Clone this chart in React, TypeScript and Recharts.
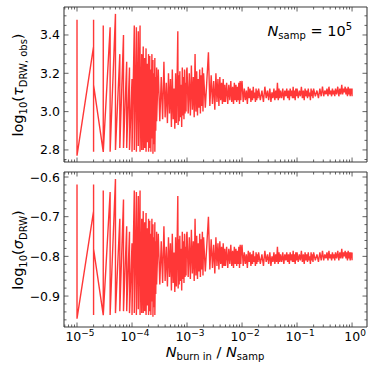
import React from "react";
import { LineChart, Line, XAxis, YAxis } from "recharts";

// N_burnin values (x = N_burnin / N_samp) and the two chains
const N_SAMP = 1e5;

const BURN_SPARSE = [1, 1, 2, 2, 2, 2, 3, 3, 3, 4, 4, 5, 5, 6, 6, 7, 7, 8, 8, 9, 9, 10, 10];
const TAU_SPARSE = [3.48, 2.77, 3.34, 3.48, 2.79, 3.14, 2.79, 3.45, 2.79, 3.44, 2.79, 3.51, 2.8, 3.3, 2.81, 3.4, 2.81, 3.26, 2.81, 3.23, 2.8, 3.17, 2.79];
const SIG_SPARSE = [-0.619, -0.957, -0.686, -0.619, -0.948, -0.781, -0.948, -0.634, -0.948, -0.638, -0.948, -0.605, -0.943, -0.705, -0.938, -0.657, -0.938, -0.724, -0.938, -0.738, -0.943, -0.767, -0.948];

const BURN_EARLY = [11, 11, 12, 12, 13, 13, 14, 14, 15, 15, 16, 16, 17, 17, 18, 18, 19, 19, 20, 20, 21, 21, 22, 22, 23, 23, 24, 24, 25, 25, 26, 26, 27, 27, 28, 28];
const TAU_EARLY = [3.45, 2.8, 3.44, 2.79, 3.42, 2.82, 3.45, 2.79, 3.3, 2.8, 3.34, 2.8, 3.28, 2.81, 3.33, 2.79, 3.25, 2.84, 3.3, 2.79, 3.29, 2.81, 3.22, 2.79, 3.3, 2.86, 3.27, 2.78, 3.2, 2.83, 3.28, 2.79, 3.18, 2.9, 3.23, 2.95];
const SIG_EARLY = [-0.634, -0.943, -0.638, -0.948, -0.648, -0.933, -0.634, -0.948, -0.705, -0.943, -0.686, -0.943, -0.714, -0.938, -0.691, -0.948, -0.729, -0.924, -0.705, -0.948, -0.71, -0.938, -0.743, -0.948, -0.705, -0.914, -0.719, -0.952, -0.752, -0.928, -0.714, -0.948, -0.762, -0.895, -0.738, -0.871];

const BURN_MID = [30, 32, 34, 36, 38, 40, 42, 44, 46, 48, 50, 52, 54, 56, 58, 60, 62, 64, 66, 68, 69, 70, 72, 74, 76, 78, 80, 82, 84, 86, 88, 90, 92, 94, 96, 98];
const TAU_MID = [3.22, 2.95, 3.18, 2.96, 3.26, 2.97, 3.15, 2.94, 3.2, 2.99, 3.17, 2.92, 3.22, 2.96, 3.12, 2.91, 3.2, 2.94, 3.16, 3.42, 2.93, 3.19, 2.95, 3.21, 2.97, 3.14, 2.92, 3.23, 2.98, 3.18, 2.96, 3.22, 2.99, 3.15, 3.0, 3.21];
const SIG_MID = [-0.743, -0.871, -0.762, -0.867, -0.724, -0.862, -0.776, -0.876, -0.752, -0.852, -0.767, -0.886, -0.743, -0.867, -0.79, -0.89, -0.752, -0.876, -0.771, -0.648, -0.881, -0.757, -0.871, -0.748, -0.862, -0.781, -0.886, -0.738, -0.857, -0.762, -0.867, -0.743, -0.852, -0.776, -0.848, -0.748];

const BURN_DEC3 = [
  100, 105, 110, 115, 120, 125, 130, 135, 140, 145, 150, 155, 160, 165, 170, 175, 180, 185, 190, 195,
  200, 215, 230, 245, 260, 275, 290, 305, 320, 335, 350, 365, 380, 395, 410, 425, 440, 455, 470, 485,
  500, 525, 550, 575, 600, 625, 650, 675, 700, 725, 750, 775, 800, 825, 850, 875, 900, 925, 950, 975,
];
const TAU_DEC3 = [
  3.23, 2.99, 3.2, 2.98, 3.24, 3.01, 3.18, 2.97, 3.3, 3.0, 3.21, 2.98, 3.17, 3.02, 3.22, 2.99, 3.19, 3.03, 3.23, 3.0,
  3.2, 3.02, 3.17, 3.31, 3.03, 3.19, 3.04, 3.16, 3.01, 3.2, 3.05, 3.17, 3.03, 3.18, 3.06, 3.15, 3.04, 3.17, 3.05, 3.14,
  3.05, 3.15, 3.04, 3.14, 3.06, 3.16, 3.05, 3.13, 3.04, 3.15, 3.06, 3.14, 3.05, 3.13, 3.06, 3.15, 3.04, 3.16, 3.06, 3.14,
];
const SIG_DEC3 = [
  -0.738, -0.852, -0.752, -0.857, -0.733, -0.843, -0.762, -0.862, -0.705, -0.848, -0.748, -0.857, -0.767, -0.838, -0.743, -0.852, -0.757, -0.833, -0.738, -0.848,
  -0.752, -0.838, -0.767, -0.7, -0.833, -0.757, -0.829, -0.771, -0.843, -0.752, -0.824, -0.767, -0.833, -0.762, -0.819, -0.776, -0.829, -0.767, -0.824, -0.781,
  -0.824, -0.776, -0.829, -0.781, -0.819, -0.771, -0.824, -0.786, -0.829, -0.776, -0.819, -0.781, -0.824, -0.786, -0.819, -0.776, -0.829, -0.771, -0.819, -0.781,
];

const BURN_DEC4 = [
  1000, 1050, 1100, 1150, 1200, 1250, 1300, 1350, 1400, 1450, 1500, 1550, 1600, 1650, 1700, 1750, 1800, 1850, 1900, 1950,
  2000, 2150, 2300, 2450, 2600, 2750, 2900, 3050, 3200, 3350, 3500, 3650, 3800, 3950, 4100, 4250, 4400, 4550, 4700, 4850,
  5000, 5250, 5500, 5750, 6000, 6250, 6500, 6750, 7000, 7250, 7500, 7750, 8000, 8250, 8500, 8750, 9000, 9250, 9500, 9750,
];
const TAU_DEC4 = [
  3.16, 3.05, 3.12, 3.06, 3.11, 3.04, 3.13, 3.07, 3.12, 3.05, 3.11, 3.06, 3.13, 3.07, 3.1, 3.05, 3.12, 3.06, 3.11, 3.07,
  3.12, 3.06, 3.11, 3.05, 3.13, 3.07, 3.11, 3.06, 3.12, 3.05, 3.1, 3.07, 3.12, 3.06, 3.11, 3.07, 3.15, 3.06, 3.12, 3.07,
  3.11, 3.07, 3.12, 3.06, 3.11, 3.08, 3.12, 3.07, 3.11, 3.06, 3.12, 3.08, 3.11, 3.07, 3.13, 3.07, 3.11, 3.06, 3.12, 3.08,
];
const SIG_DEC4 = [
  -0.771, -0.824, -0.79, -0.819, -0.795, -0.829, -0.786, -0.814, -0.79, -0.824, -0.795, -0.819, -0.786, -0.814, -0.8, -0.824, -0.79, -0.819, -0.795, -0.814,
  -0.79, -0.819, -0.795, -0.824, -0.786, -0.814, -0.795, -0.819, -0.79, -0.824, -0.8, -0.814, -0.79, -0.819, -0.795, -0.814, -0.776, -0.819, -0.79, -0.814,
  -0.795, -0.814, -0.79, -0.819, -0.795, -0.81, -0.79, -0.814, -0.795, -0.819, -0.79, -0.81, -0.795, -0.814, -0.786, -0.814, -0.795, -0.819, -0.79, -0.81,
];

const BURN_DEC5 = [
  10000, 10500, 11000, 11500, 12000, 12500, 13000, 13500, 14000, 14500, 15000, 15500, 16000, 16500, 17000, 17500, 18000, 18500, 19000, 19500,
  20000, 21500, 23000, 24500, 26000, 27500, 29000, 30500, 32000, 33500, 35000, 36500, 38000, 39500, 41000, 42500, 44000, 45500, 47000, 48500,
  50000, 52500, 55000, 57500, 60000, 62500, 65000, 67500, 70000, 72500, 75000, 77500, 80000, 82500, 85000, 87500, 90000, 92500, 95000, 97500,
  100000, 100000, 100000,
];
const TAU_DEC5 = [
  3.12, 3.07, 3.11, 3.08, 3.13, 3.07, 3.11, 3.06, 3.12, 3.08, 3.11, 3.07, 3.12, 3.08, 3.1, 3.06, 3.12, 3.08, 3.11, 3.07,
  3.12, 3.08, 3.11, 3.07, 3.12, 3.08, 3.13, 3.08, 3.11, 3.09, 3.12, 3.08, 3.13, 3.09, 3.11, 3.08, 3.12, 3.09, 3.11, 3.08,
  3.12, 3.09, 3.13, 3.08, 3.12, 3.09, 3.14, 3.09, 3.12, 3.1, 3.13, 3.09, 3.12, 3.08, 3.13, 3.09, 3.12, 3.08, 3.12, 3.09,
  3.12, 3.08, 3.1,
];
const SIG_DEC5 = [
  -0.79, -0.814, -0.795, -0.81, -0.786, -0.814, -0.795, -0.819, -0.79, -0.81, -0.795, -0.814, -0.79, -0.81, -0.8, -0.819, -0.79, -0.81, -0.795, -0.814,
  -0.79, -0.81, -0.795, -0.814, -0.79, -0.81, -0.786, -0.81, -0.795, -0.805, -0.79, -0.81, -0.786, -0.805, -0.795, -0.81, -0.79, -0.805, -0.795, -0.81,
  -0.79, -0.805, -0.786, -0.81, -0.79, -0.805, -0.781, -0.805, -0.79, -0.8, -0.786, -0.805, -0.79, -0.81, -0.786, -0.805, -0.79, -0.81, -0.79, -0.805,
  -0.79, -0.81, -0.8,
];

// axes
const X_MAJOR = [1e-5, 1e-4, 1e-3, 1e-2, 1e-1, 1];
const X_EXP = ["\u22125", "\u22124", "\u22123", "\u22122", "\u22121", "0"];
const X_DOMAIN = [5.8e-6, 1.87];

const TAU_MAJOR = [2.8, 3.0, 3.2, 3.4];
const TAU_LABELS = ["2.8", "3.0", "3.2", "3.4"];
const TAU_MINOR = [2.75, 2.85, 2.9, 2.95, 3.05, 3.1, 3.15, 3.25, 3.3, 3.35, 3.45, 3.5];
const TAU_DOMAIN = [2.737, 3.546];

const SIG_MAJOR = [-0.9, -0.8, -0.7, -0.6];
const SIG_LABELS = ["\u22120.9", "\u22120.8", "\u22120.7", "\u22120.6"];
const SIG_MINOR = [-0.96, -0.94, -0.92, -0.88, -0.86, -0.84, -0.82, -0.78, -0.76, -0.74, -0.72, -0.68, -0.66, -0.64, -0.62];
const SIG_DOMAIN = [-0.978, -0.5874];

const zip = (burn: number[], tau: number[], sig: number[]) =>
  burn.map((b, i) => ({ x: b / N_SAMP, tau: tau[i], sig: sig[i] }));

const rows = [
  ...zip(BURN_SPARSE, TAU_SPARSE, SIG_SPARSE),
  ...zip(BURN_EARLY, TAU_EARLY, SIG_EARLY),
  ...zip(BURN_MID, TAU_MID, SIG_MID),
  ...zip(BURN_DEC3, TAU_DEC3, SIG_DEC3),
  ...zip(BURN_DEC4, TAU_DEC4, SIG_DEC4),
  ...zip(BURN_DEC5, TAU_DEC5, SIG_DEC5),
];

const xTicks: number[] = [];
for (let e = -6; e <= 0; e++) {
  for (let k = 1; k <= 9; k++) {
    const v = k * Math.pow(10, e);
    if (v >= X_DOMAIN[0] && v <= X_DOMAIN[1]) xTicks.push(v);
  }
}

const AXIS = "#3c3c3c";
const FONT = "DejaVu Sans";
const MAJOR_LEN = 4.5;
const MINOR_LEN = 2.5;

const majorIndex = (list: number[], v: number) =>
  list.findIndex((m) => Math.abs(v - m) <= Math.abs(m) * 1e-6 + 1e-9);

function XTick(props: any) {
  const { x, y, payload, side, labels } = props;
  const idx = majorIndex(X_MAJOR, payload.value);
  const len = idx >= 0 ? MAJOR_LEN : MINOR_LEN;
  const dir = side === "bottom" ? -1 : 1;
  return (
    <g>
      <line x1={x} x2={x} y1={y} y2={y + dir * len} stroke={AXIS} strokeWidth={0.8} />
      {labels && idx >= 0 && (
        <text x={x + 3} y={y + 14} textAnchor="middle" fontSize={12.5} fontFamily={FONT} fill="#000">
          10<tspan dy={-5.5} fontSize={9}>{X_EXP[idx]}</tspan>
        </text>
      )}
    </g>
  );
}

function YTick(props: any) {
  const { x, y, payload, side, major, labels } = props;
  const idx = majorIndex(major, payload.value);
  const len = idx >= 0 ? MAJOR_LEN : MINOR_LEN;
  const dir = side === "left" ? 1 : -1;
  return (
    <g>
      <line x1={x} x2={x + dir * len} y1={y} y2={y} stroke={AXIS} strokeWidth={0.8} />
      {labels && idx >= 0 && (
        <text x={x - 4} y={y + 4.5} textAnchor="end" fontSize={12.5} fontFamily={FONT} fill="#000">
          {labels[idx]}
        </text>
      )}
    </g>
  );
}

function Panel(props: any) {
  const { height, bottomHeight, dataKey, domain, major, minor, labels, showX } = props;
  const yTicks = [...major, ...minor].sort((a, b) => a - b);
  const axisLine = { stroke: AXIS, strokeWidth: 1.1 };
  return (
    <LineChart width={374} height={height} data={rows} margin={{ top: 0, right: 0, bottom: 0, left: 0 }}>
      <XAxis
        dataKey="x"
        type="number"
        scale="log"
        domain={X_DOMAIN}
        allowDataOverflow
        ticks={xTicks}
        interval={0}
        height={bottomHeight}
        tickSize={0}
        tickMargin={0}
        tickLine={false}
        axisLine={axisLine}
        tick={(p: any) => <XTick {...p} side="bottom" labels={showX} />}
      />
      <XAxis
        xAxisId="top"
        orientation="top"
        dataKey="x"
        type="number"
        scale="log"
        domain={X_DOMAIN}
        allowDataOverflow
        ticks={xTicks}
        interval={0}
        height={7}
        tickSize={0}
        tickMargin={0}
        tickLine={false}
        axisLine={axisLine}
        tick={(p: any) => <XTick {...p} side="top" labels={false} />}
      />
      <YAxis
        type="number"
        domain={domain}
        allowDataOverflow
        ticks={yTicks}
        interval={0}
        width={64}
        tickSize={0}
        tickMargin={0}
        tickLine={false}
        axisLine={axisLine}
        tick={(p: any) => <YTick {...p} side="left" major={major} labels={labels} />}
      />
      <YAxis
        yAxisId="right"
        orientation="right"
        type="number"
        domain={domain}
        allowDataOverflow
        ticks={yTicks}
        interval={0}
        width={7}
        tickSize={0}
        tickMargin={0}
        tickLine={false}
        axisLine={axisLine}
        tick={(p: any) => <YTick {...p} side="right" major={major} labels={null} />}
      />
      <Line
        type="linear"
        dataKey={dataKey}
        stroke="#ff1414"
        strokeOpacity={0.85}
        strokeWidth={1.4}
        dot={false}
        isAnimationActive={false}
      />
    </LineChart>
  );
}

export default function App() {
  return (
    <div style={{ position: "absolute", left: 0, top: 0, width: 374, height: 374, background: "#fff" }}>
      <div style={{ position: "absolute", left: 0, top: 0 }}>
        <Panel height={170} bottomHeight={8} dataKey="tau" domain={TAU_DOMAIN} major={TAU_MAJOR} minor={TAU_MINOR} labels={TAU_LABELS} showX={false} />
      </div>
      <div style={{ position: "absolute", left: 0, top: 165 }}>
        <Panel height={209} bottomHeight={47} dataKey="sig" domain={SIG_DOMAIN} major={SIG_MAJOR} minor={SIG_MINOR} labels={SIG_LABELS} showX={true} />
      </div>
      <svg width={374} height={374} style={{ position: "absolute", left: 0, top: 0, pointerEvents: "none" }} fontFamily={FONT}>
        <text transform="translate(23,85) rotate(-90)" textAnchor="middle" fontSize={14.5} fill="#000">
          log<tspan dy={4} fontSize={10}>10</tspan>
          <tspan dy={-4}>(</tspan>
          <tspan fontStyle="italic">τ</tspan>
          <tspan dy={4} fontSize={10}>DRW, obs</tspan>
          <tspan dy={-4}>)</tspan>
        </text>
        <text transform="translate(23,250) rotate(-90)" textAnchor="middle" fontSize={14.5} fill="#000">
          log<tspan dy={4} fontSize={10}>10</tspan>
          <tspan dy={-4}>(</tspan>
          <tspan fontStyle="italic">σ</tspan>
          <tspan dy={4} fontSize={10}>DRW</tspan>
          <tspan dy={-4}>)</tspan>
        </text>
        <text x={215} y={357} textAnchor="middle" fontSize={14.5} fill="#000">
          <tspan fontStyle="italic">N</tspan>
          <tspan dy={3} fontSize={10}>burn in</tspan>
          <tspan dy={-3}> / </tspan>
          <tspan fontStyle="italic">N</tspan>
          <tspan dy={3} fontSize={10}>samp</tspan>
        </text>
        <text x={352} y={36} textAnchor="end" fontSize={14.5} fill="#000">
          <tspan fontStyle="italic">N</tspan>
          <tspan dy={3} fontSize={10}>samp</tspan>
          <tspan dy={-3}> = 10</tspan>
          <tspan dy={-6} fontSize={10}>5</tspan>
        </text>
      </svg>
    </div>
  );
}
